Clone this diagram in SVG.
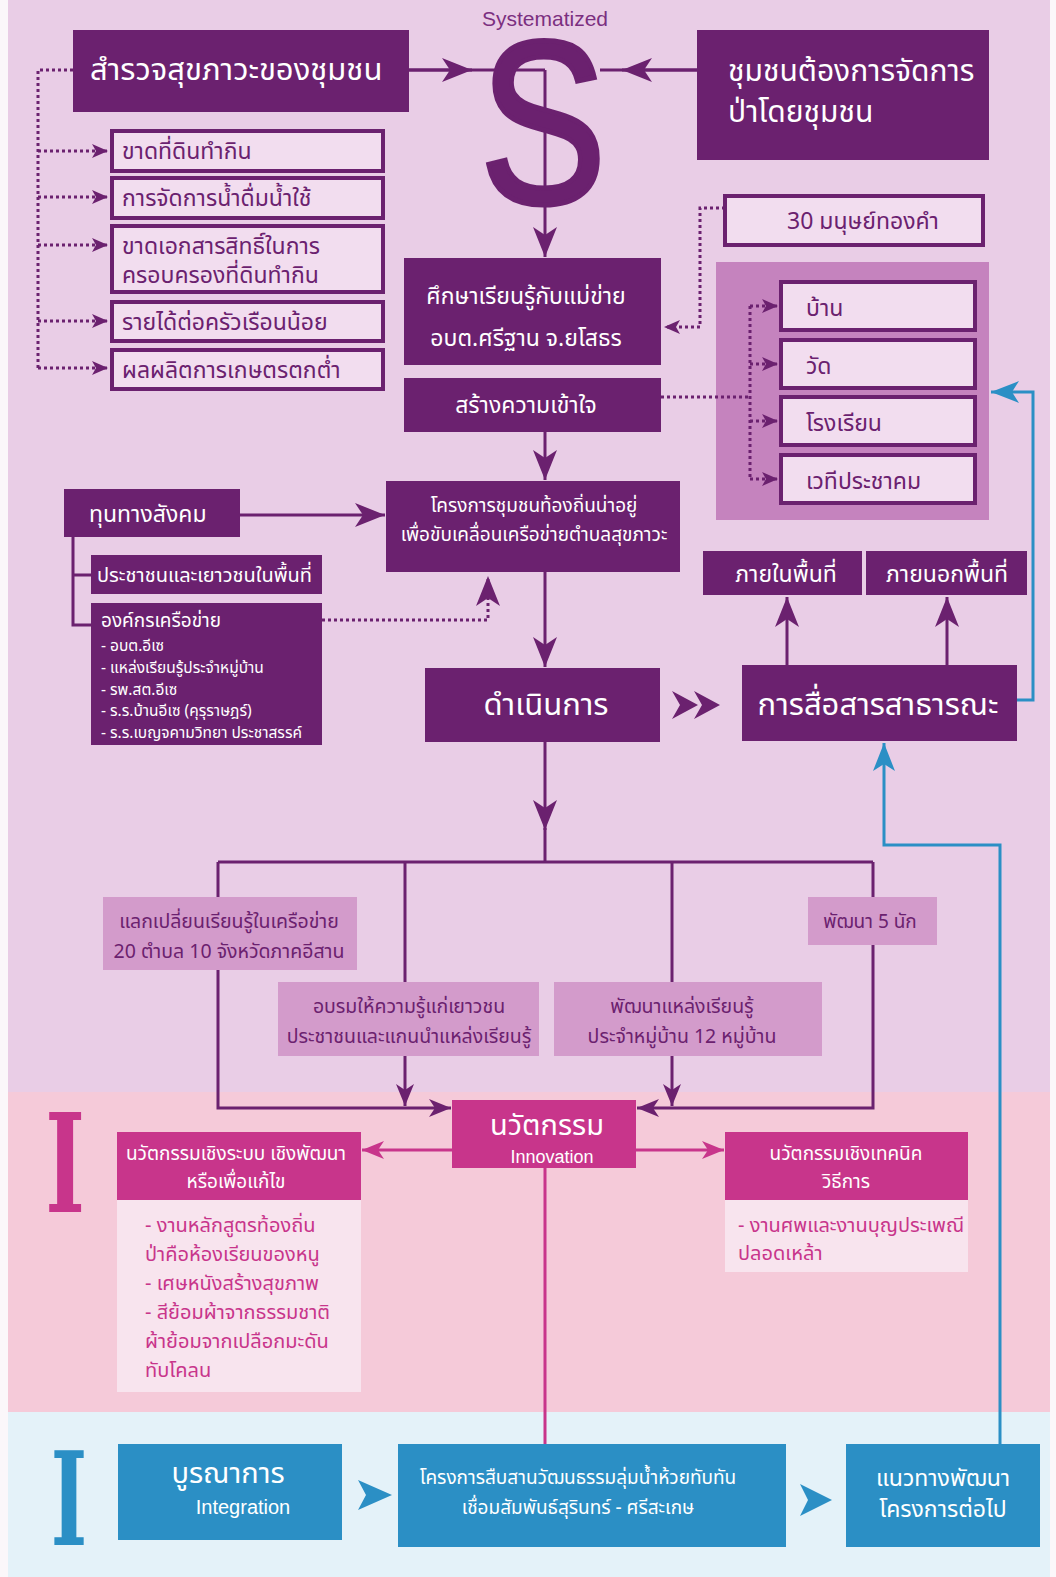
<svg xmlns="http://www.w3.org/2000/svg" width="1056" height="1577" viewBox="0 0 1056 1577">
<defs>
<style>
.t{font-family:"Noto Sans Thai","Noto Sans Thai UI","Noto Sans","DejaVu Sans","Liberation Sans",sans-serif}
.w{fill:#ffffff}
.d{fill:#6b216f}
.m{fill:#c8358b}
.dk{fill:#6b216f}
.ob{fill:#f2ddef;stroke:#6b216f;stroke-width:4}
.ln{fill:none;stroke:#6b216f;stroke-width:3}
.dot{fill:none;stroke:#6b216f;stroke-width:3;stroke-dasharray:3 3}
.mg{fill:none;stroke:#c8358b;stroke-width:3}
.bl{fill:none;stroke:#2b8fc5;stroke-width:3}
.mid{fill:#d39bcb}
</style>
<marker id="arr" markerUnits="userSpaceOnUse" viewBox="0 0 30 24" refX="30" refY="12" markerWidth="30" markerHeight="24" orient="auto"><path d="M0,0 L30,12 L0,24 L8,12 z" fill="#6b216f"/></marker>
<marker id="arrm" markerUnits="userSpaceOnUse" viewBox="0 0 22 18" refX="22" refY="9" markerWidth="22" markerHeight="18" orient="auto"><path d="M0,0 L22,9 L0,18 L6,9 z" fill="#6b216f"/></marker>
<marker id="arrs" markerUnits="userSpaceOnUse" viewBox="0 0 16 14" refX="16" refY="7" markerWidth="16" markerHeight="14" orient="auto"><path d="M0,0 L16,7 L0,14 L4,7 z" fill="#6b216f"/></marker>
<marker id="arrg" markerUnits="userSpaceOnUse" viewBox="0 0 22 18" refX="22" refY="9" markerWidth="22" markerHeight="18" orient="auto"><path d="M0,0 L22,9 L0,18 L6,9 z" fill="#c8358b"/></marker>
<marker id="arrb" markerUnits="userSpaceOnUse" viewBox="0 0 28 22" refX="28" refY="11" markerWidth="28" markerHeight="22" orient="auto"><path d="M0,0 L28,11 L0,22 L7,11 z" fill="#2b8fc5"/></marker>
</defs>

<!-- backgrounds -->
<rect x="0" y="0" width="1056" height="1577" fill="#fbf7fa"/>
<rect x="8" y="0" width="1042" height="1092" fill="#e9cde6"/>
<rect x="8" y="1092" width="1042" height="320" fill="#f5cad9"/>
<rect x="8" y="1412" width="1042" height="165" fill="#e4f2f9"/>

<g id="places-panel"><rect x="716" y="262" width="273" height="258" fill="#c583be"/></g>

<!-- connectors -->
<g id="connectors">
  <path class="ln" d="M409,70 L545,70"/>
  <path class="ln" d="M409,70 L472,70" marker-end="url(#arr)"/>
  <path class="ln" d="M697,70 L600,70"/>
  <path class="ln" d="M697,70 L622,70" marker-end="url(#arr)"/>
  <path class="ln" d="M545,70 L545,257" marker-end="url(#arr)"/>
  <path class="ln" d="M545,432 L545,480" marker-end="url(#arr)"/>
  <path class="ln" d="M545,572 L545,667" marker-end="url(#arr)"/>
  <path class="ln" d="M545,742 L545,830" marker-end="url(#arr)"/>
  <path class="ln" d="M545,828 L545,862"/>
  <path class="ln" d="M240,515 L385,515" marker-end="url(#arr)"/>
  <path class="ln" d="M73,537 L73,625 L91,625 M73,575 L91,575"/>
  <path class="ln" d="M787,665 L787,597" marker-end="url(#arr)"/>
  <path class="ln" d="M947,665 L947,597" marker-end="url(#arr)"/>
  <path class="ln" d="M218,862 L873,862"/>
  <path class="ln" d="M218,862 L218,1108 L451,1108" marker-end="url(#arrm)"/>
  <path class="ln" d="M873,862 L873,1108 L637,1108" marker-end="url(#arrm)"/>
  <path class="ln" d="M405,862 L405,1106" marker-end="url(#arrm)"/>
  <path class="ln" d="M672,862 L672,1106" marker-end="url(#arrm)"/>
  <!-- dotted -->
  <path class="dot" d="M73,70 L38,70 L38,368"/>
  <path class="dot" d="M38,151 L108,151" marker-end="url(#arrs)"/>
  <path class="dot" d="M38,197 L108,197" marker-end="url(#arrs)"/>
  <path class="dot" d="M38,245 L108,245" marker-end="url(#arrs)"/>
  <path class="dot" d="M38,321 L108,321" marker-end="url(#arrs)"/>
  <path class="dot" d="M38,368 L108,368" marker-end="url(#arrs)"/>
  <path class="dot" d="M725,208 L700,208 L700,327 L664,327" marker-end="url(#arrs)"/>
  <path class="dot" d="M661,397 L750,397 M750,306 L750,479"/>
  <path class="dot" d="M750,306 L778,306" marker-end="url(#arrs)"/>
  <path class="dot" d="M750,364 L778,364" marker-end="url(#arrs)"/>
  <path class="dot" d="M750,421 L778,421" marker-end="url(#arrs)"/>
  <path class="dot" d="M750,479 L778,479" marker-end="url(#arrs)"/>
  <path class="dot" d="M322,620 L488,620 L488,576" marker-end="url(#arr)"/>
  <!-- double chevron -->
  <path d="M672,691 L698,705 L672,719 L680,705 z M694,691 L720,705 L694,719 L702,705 z" fill="#6b216f"/>
  <!-- magenta -->
  <path class="mg" d="M452,1150 L362,1150" marker-end="url(#arrg)"/>
  <path class="mg" d="M636,1150 L724,1150" marker-end="url(#arrg)"/>
  <path class="mg" d="M545,1168 L545,1444"/>
  <!-- blue -->
  <path class="bl" d="M1017,700 L1033,700 L1033,392 L991,392" marker-end="url(#arrb)"/>
  <path class="bl" d="M1000,1444 L1000,845 L884,845 L884,743" marker-end="url(#arrb)"/>
  <path d="M358,1480 L392,1495 L358,1510 L366,1495 z" fill="#2b8fc5"/>
  <path d="M800,1484 L832,1500 L800,1516 L808,1500 z" fill="#2b8fc5"/>
</g>

<!-- S -->
<g id="systematized">
  <text x="545" y="26" text-anchor="middle" font-family="Liberation Sans, sans-serif" font-size="21" fill="#7b2f80">Systematized</text>
  <text transform="translate(543,203) scale(0.84,1.03)" x="0" y="0" text-anchor="middle" font-family="Liberation Sans, sans-serif" font-size="226" fill="#6b216f" stroke="#6b216f" stroke-width="5">S</text>
</g>

<g id="survey"><rect x="73" y="30" width="336" height="82" class="dk"/><text class="t w" x="90" y="80" font-size="31">สำรวจสุขภาวะของชุมชน</text></g>
<g id="forest"><rect x="697" y="30" width="292" height="130" class="dk"/><text class="t w" x="728" y="81" font-size="30">ชุมชนต้องการจัดการ</text><text class="t w" x="728" y="122" font-size="30">ป่าโดยชุมชน</text></g>

<g id="p1"><rect x="112" y="131" width="271" height="40" class="ob"/><text class="t d" x="122" y="159" font-size="23">ขาดที่ดินทำกิน</text></g>
<g id="p2"><rect x="112" y="178" width="271" height="40" class="ob"/><text class="t d" x="122" y="206" font-size="23">การจัดการน้ำดื่มน้ำใช้</text></g>
<g id="p3"><rect x="112" y="226" width="271" height="66" class="ob"/><text class="t d" x="122" y="254" font-size="23">ขาดเอกสารสิทธิ์ในการ</text><text class="t d" x="122" y="283" font-size="23">ครอบครองที่ดินทำกิน</text></g>
<g id="p4"><rect x="112" y="302" width="271" height="39" class="ob"/><text class="t d" x="122" y="330" font-size="23">รายได้ต่อครัวเรือนน้อย</text></g>
<g id="p5"><rect x="112" y="350" width="271" height="39" class="ob"/><text class="t d" x="122" y="378" font-size="23">ผลผลิตการเกษตรตกต่ำ</text></g>

<g id="study"><rect x="404" y="258" width="257" height="107" class="dk"/><text class="t w" x="526" y="304" font-size="23" text-anchor="middle">ศึกษาเรียนรู้กับแม่ข่าย</text><text class="t w" x="526" y="346" font-size="23" text-anchor="middle">อบต.ศรีฐาน จ.ยโสธร</text></g>
<g id="understand"><rect x="404" y="378" width="257" height="54" class="dk"/><text class="t w" x="526" y="413" font-size="23" text-anchor="middle">สร้างความเข้าใจ</text></g>
<g id="project"><rect x="386" y="481" width="294" height="91" class="dk"/><text class="t w" x="534" y="512" font-size="19" text-anchor="middle">โครงการชุมชนท้องถิ่นน่าอยู่</text><text class="t w" x="534" y="541" font-size="19" text-anchor="middle">เพื่อขับเคลื่อนเครือข่ายตำบลสุขภาวะ</text></g>
<g id="operate"><rect x="425" y="668" width="235" height="74" class="dk"/><text class="t w" x="546" y="715" font-size="31" text-anchor="middle">ดำเนินการ</text></g>

<g id="golden"><rect x="725" y="196" width="258" height="49" class="ob"/><text class="t d" x="863" y="229" font-size="23" text-anchor="middle">30 มนุษย์ทองคำ</text></g>
<g id="places">
  <rect x="781" y="282" width="194" height="48" class="ob"/><text class="t d" x="806" y="316" font-size="23">บ้าน</text>
  <rect x="781" y="340" width="194" height="48" class="ob"/><text class="t d" x="806" y="374" font-size="23">วัด</text>
  <rect x="781" y="397" width="194" height="48" class="ob"/><text class="t d" x="806" y="431" font-size="23">โรงเรียน</text>
  <rect x="781" y="455" width="194" height="48" class="ob"/><text class="t d" x="806" y="489" font-size="23">เวทีประชาคม</text>
</g>
<g id="inside"><rect x="703" y="551" width="159" height="44" class="dk"/><text class="t w" x="786" y="582" font-size="23" text-anchor="middle">ภายในพื้นที่</text></g>
<g id="outside"><rect x="866" y="551" width="161" height="44" class="dk"/><text class="t w" x="947" y="582" font-size="23" text-anchor="middle">ภายนอกพื้นที่</text></g>
<g id="public"><rect x="742" y="665" width="275" height="76" class="dk"/><text class="t w" x="878" y="715" font-size="31" text-anchor="middle">การสื่อสารสาธารณะ</text></g>

<g id="capital"><rect x="64" y="489" width="176" height="48" class="dk"/><text class="t w" x="89" y="522" font-size="23">ทุนทางสังคม</text></g>
<g id="people"><rect x="91" y="555" width="231" height="39" class="dk"/><text class="t w" x="97" y="582" font-size="20">ประชาชนและเยาวชนในพื้นที่</text></g>
<g id="orgs"><rect x="91" y="603" width="231" height="142" class="dk"/>
  <text class="t w" x="101" y="627" font-size="19">องค์กรเครือข่าย</text>
  <text class="t w" x="101" y="651" font-size="15.5">- อบต.อีเซ</text>
  <text class="t w" x="101" y="673" font-size="15.5">- แหล่งเรียนรู้ประจำหมู่บ้าน</text>
  <text class="t w" x="101" y="695" font-size="15.5">- รพ.สต.อีเซ</text>
  <text class="t w" x="101" y="716" font-size="15.5">- ร.ร.บ้านอีเซ (คุรุราษฎร์)</text>
  <text class="t w" x="101" y="738" font-size="15.5">- ร.ร.เบญจคามวิทยา ประชาสรรค์</text>
</g>

<g id="exchange"><rect x="103" y="897" width="254" height="73" class="mid"/><text class="t d" x="229" y="928" font-size="19.5" text-anchor="middle">แลกเปลี่ยนเรียนรู้ในเครือข่าย</text><text class="t d" x="229" y="958" font-size="19.5" text-anchor="middle">20 ตำบล 10 จังหวัดภาคอีสาน</text></g>
<g id="train"><rect x="278" y="982" width="261" height="74" class="mid"/><text class="t d" x="409" y="1013" font-size="19.5" text-anchor="middle">อบรมให้ความรู้แก่เยาวชน</text><text class="t d" x="409" y="1043" font-size="19.5" text-anchor="middle">ประชาชนและแกนนำแหล่งเรียนรู้</text></g>
<g id="learnsrc"><rect x="554" y="982" width="268" height="74" class="mid"/><text class="t d" x="682" y="1013" font-size="19.5" text-anchor="middle">พัฒนาแหล่งเรียนรู้</text><text class="t d" x="682" y="1043" font-size="19.5" text-anchor="middle">ประจำหมู่บ้าน 12 หมู่บ้าน</text></g>
<g id="five"><rect x="808" y="897" width="129" height="48" class="mid"/><text class="t d" x="870" y="928" font-size="19" text-anchor="middle">พัฒนา 5 นัก</text></g>

<g id="letterI1"><text transform="translate(65,1212) scale(0.62,1)" x="0" y="0" text-anchor="middle" font-family="DejaVu Serif, serif" font-weight="bold" font-size="137" fill="#c8358b">I</text></g>
<g id="innovation"><rect x="452" y="1100" width="184" height="68" fill="#c8358b"/><text class="t w" x="547" y="1135" font-size="29" text-anchor="middle">นวัตกรรม</text><text x="552" y="1163" font-family="Liberation Sans, sans-serif" font-size="18" fill="#ffffff" text-anchor="middle">Innovation</text></g>
<g id="sysinno"><rect x="117" y="1132" width="244" height="68" fill="#c8358b"/><text class="t w" x="236" y="1160" font-size="19" text-anchor="middle">นวัตกรรมเชิงระบบ เชิงพัฒนา</text><text class="t w" x="236" y="1188" font-size="19" text-anchor="middle">หรือเพื่อแก้ไข</text>
  <rect x="117" y="1200" width="244" height="192" fill="#f8e4ee"/>
  <text class="t m" x="145" y="1232" font-size="20">- งานหลักสูตรท้องถิ่น</text>
  <text class="t m" x="145" y="1261" font-size="20">ป่าคือห้องเรียนของหนู</text>
  <text class="t m" x="145" y="1290" font-size="20">- เศษหนังสร้างสุขภาพ</text>
  <text class="t m" x="145" y="1319" font-size="20">- สีย้อมผ้าจากธรรมชาติ</text>
  <text class="t m" x="145" y="1348" font-size="20">ผ้าย้อมจากเปลือกมะดัน</text>
  <text class="t m" x="145" y="1377" font-size="20">ทับโคลน</text>
</g>
<g id="techinno"><rect x="725" y="1132" width="243" height="68" fill="#c8358b"/><text class="t w" x="846" y="1160" font-size="19" text-anchor="middle">นวัตกรรมเชิงเทคนิค</text><text class="t w" x="846" y="1188" font-size="19" text-anchor="middle">วิธีการ</text>
  <rect x="725" y="1200" width="243" height="72" fill="#f8e4ee"/>
  <text class="t m" x="738" y="1232" font-size="20">- งานศพและงานบุญประเพณี</text>
  <text class="t m" x="738" y="1260" font-size="20">ปลอดเหล้า</text>
</g>

<g id="letterI2"><text transform="translate(69,1545) scale(0.6,1)" x="0" y="0" text-anchor="middle" font-family="DejaVu Serif, serif" font-weight="bold" font-size="130" fill="#2b8fc5">I</text></g>
<g id="integration"><rect x="118" y="1444" width="224" height="96" fill="#2b8fc5"/><text class="t w" x="228" y="1483" font-size="29" text-anchor="middle">บูรณาการ</text><text x="243" y="1514" font-family="Liberation Sans, sans-serif" font-size="20" fill="#ffffff" text-anchor="middle">Integration</text></g>
<g id="heritage"><rect x="398" y="1444" width="388" height="103" fill="#2b8fc5"/><text class="t w" x="578" y="1484" font-size="19" text-anchor="middle">โครงการสืบสานวัฒนธรรมลุ่มน้ำห้วยทับทัน</text><text class="t w" x="578" y="1514" font-size="19" text-anchor="middle">เชื่อมสัมพันธ์สุรินทร์ - ศรีสะเกษ</text></g>
<g id="next"><rect x="846" y="1444" width="194" height="103" fill="#2b8fc5"/><text class="t w" x="943" y="1486" font-size="23" text-anchor="middle">แนวทางพัฒนา</text><text class="t w" x="943" y="1517" font-size="23" text-anchor="middle">โครงการต่อไป</text></g>
</svg>
